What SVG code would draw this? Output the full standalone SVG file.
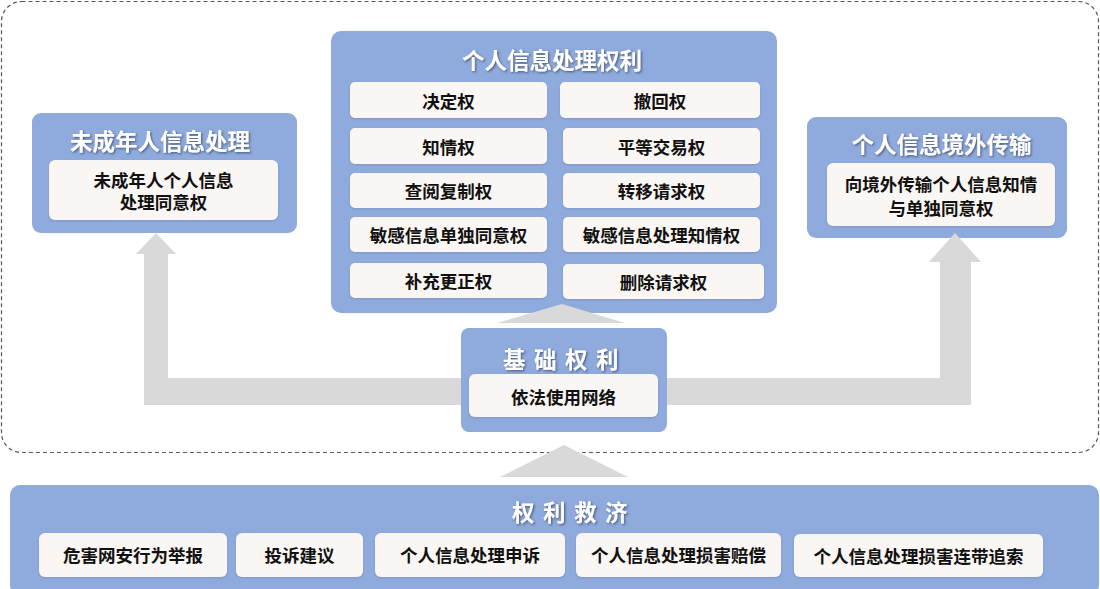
<svg xmlns="http://www.w3.org/2000/svg" width="1100" height="589" viewBox="0 0 1100 589">
<defs>
<filter id="ts" x="-10%" y="-30%" width="120%" height="160%"><feDropShadow dx="1.2" dy="1.2" stdDeviation="0.9" flood-color="#2b3a55" flood-opacity="0.7"/></filter>
<filter id="bs" x="-5%" y="-10%" width="110%" height="130%"><feDropShadow dx="0" dy="1" stdDeviation="0.8" flood-color="#5a6f96" flood-opacity="0.35"/></filter>
<style>
.outer{fill:#8FAADC}
.inner{fill:#FAF6F3;filter:url(#bs)}
.title{font-family:"Noto Sans CJK SC","Noto Sans CJK TC",sans-serif;font-weight:700;font-size:22.5px;fill:#fff;text-anchor:middle;dominant-baseline:central;filter:url(#ts)}
.sp{letter-spacing:8.5px}
.lbl{font-family:"Noto Sans CJK SC","Noto Sans CJK TC",sans-serif;font-weight:700;font-size:17.5px;fill:#111;text-anchor:middle;dominant-baseline:central}
.arr{fill:#D9D9D9}
</style>
</defs>
<rect x="1.5" y="1.5" width="1097" height="451" rx="20" fill="none" stroke="#595959" stroke-width="1.2" stroke-dasharray="4 3"/>

<g id="minor">
<rect class="outer" x="32" y="113" width="265" height="120" rx="9"/>
<text class="title" x="160" y="140">未成年人信息处理</text>
<rect class="inner" x="49" y="160" width="229" height="60" rx="6"/>
<text class="lbl" x="163.5" y="179">未成年人个人信息</text>
<text class="lbl" x="163.5" y="201.5">处理同意权</text>
</g>

<g id="rights">
<rect class="outer" x="331" y="31" width="446" height="282" rx="10"/>
<text class="title" x="552" y="59">个人信息处理权利</text>
<rect class="inner" x="350" y="82" width="197" height="36" rx="5"/>
<text class="lbl" x="448.5" y="100">决定权</text>
<rect class="inner" x="560" y="82" width="200" height="36" rx="5"/>
<text class="lbl" x="660" y="100">撤回权</text>
<rect class="inner" x="350" y="128" width="197" height="36" rx="5"/>
<text class="lbl" x="448.5" y="146">知情权</text>
<rect class="inner" x="563" y="128" width="197" height="36" rx="5"/>
<text class="lbl" x="661.5" y="146">平等交易权</text>
<rect class="inner" x="350" y="173" width="197" height="35" rx="5"/>
<text class="lbl" x="448.5" y="190.5">查阅复制权</text>
<rect class="inner" x="563" y="173" width="197" height="35" rx="5"/>
<text class="lbl" x="661.5" y="190.5">转移请求权</text>
<rect class="inner" x="350" y="217" width="197" height="35" rx="5"/>
<text class="lbl" x="448.5" y="234.5">敏感信息单独同意权</text>
<rect class="inner" x="563" y="217" width="197" height="35" rx="5"/>
<text class="lbl" x="661.5" y="234.5">敏感信息处理知情权</text>
<rect class="inner" x="350" y="263" width="197" height="35" rx="5"/>
<text class="lbl" x="448.5" y="280.5">补充更正权</text>
<rect class="inner" x="563" y="264" width="201" height="35" rx="5"/>
<text class="lbl" x="663.5" y="281.5">删除请求权</text>
</g>

<g id="cross">
<rect class="outer" x="807" y="117" width="260" height="121" rx="9"/>
<text class="title" x="941.5" y="143">个人信息境外传输</text>
<rect class="inner" x="827" y="163" width="228" height="63" rx="6"/>
<text class="lbl" x="941" y="183.5">向境外传输个人信息知情</text>
<text class="lbl" x="941" y="207">与单独同意权</text>
</g>

<g id="basic">
<rect class="outer" x="461" y="328" width="206" height="104" rx="8"/>
<text class="title sp" x="565" y="358">基础权利</text>
<rect class="inner" x="469" y="374" width="189" height="43" rx="6"/>
<text class="lbl" x="563.5" y="396">依法使用网络</text>
</g>

<g id="remedy">
<rect class="outer" x="10" y="485" width="1089" height="110" rx="10"/>
<text class="title sp" x="574" y="511">权利救济</text>
<rect class="inner" x="39" y="533" width="188" height="44" rx="6"/>
<text class="lbl" x="133" y="554">危害网安行为举报</text>
<rect class="inner" x="236" y="533" width="127" height="44" rx="6"/>
<text class="lbl" x="299.5" y="554">投诉建议</text>
<rect class="inner" x="375" y="533" width="190" height="44" rx="6"/>
<text class="lbl" x="470" y="554">个人信息处理申诉</text>
<rect class="inner" x="576" y="533" width="205" height="44" rx="6"/>
<text class="lbl" x="678.5" y="554">个人信息处理损害赔偿</text>
<rect class="inner" x="794" y="534" width="249" height="43" rx="6"/>
<text class="lbl" x="918.5" y="555">个人信息处理损害连带追索</text>
</g>

<g id="connectors">
<polygon class="arr" points="461,378 168,378 168,254 176,254 156,233 136,254 144,254 144,405 461,405"/>
<polygon class="arr" points="667,378 940,378 940,262 929,262 955,233 981,262 971,262 971,405 667,405"/>
<polygon class="arr" points="562,304 625,323 497,323"/>
<polygon class="arr" points="564,445 628,477 500,477"/>
</g>
</svg>
